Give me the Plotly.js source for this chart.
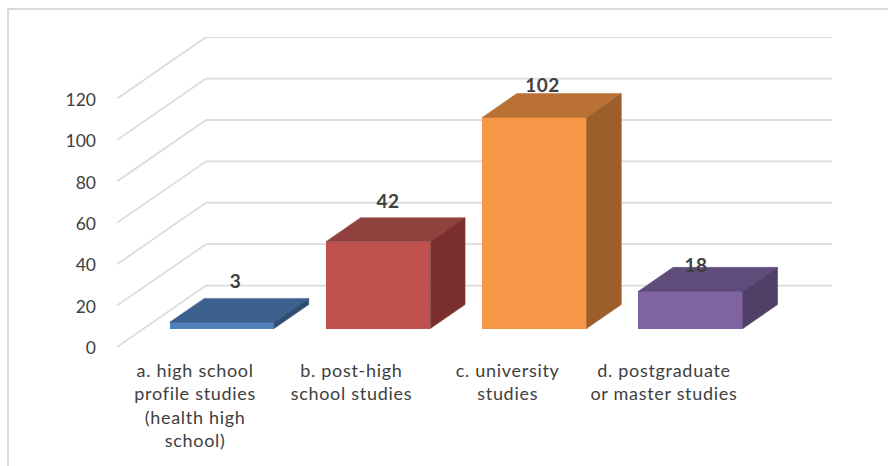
<!DOCTYPE html>
<html>
<head>
<meta charset="utf-8">
<script src="https://cdn.plot.ly/plotly-3.0.1.min.js"></script>
<style>
  html, body { margin: 0; padding: 0; background: #fff; overflow: hidden; }
  #frame { position: absolute; left: 7px; top: 8px; width: 881px; height: 458px;
           border-left: 2px solid #d9d9d9; border-top: 2px solid #d9d9d9; }
  #chart { position: absolute; left: 0; top: 0; width: 888px; height: 466px; }
  #chart .xtick text { letter-spacing: 0.7px; }
  #chart .annotation-text { letter-spacing: 0.5px; }
</style>
</head>
<body>
<div id="frame"></div>
<div id="chart"></div>
<script>
// Education level of respondents, drawn as an oblique 3D column chart.
const categories = [
  'a. high school<br>profile studies<br>(health high<br>school)',
  'b. post-high<br>school studies',
  'c. university<br>studies',
  'd. postgraduate<br>or master studies'
];
const counts = [3, 42, 102, 18];
const valueTicks = [0, 20, 40, 60, 80, 100, 120];

const frontColors = ['#4f81bd', '#c0504d', '#f79646', '#8064a2'];
const topColors   = ['#3c618e', '#90403d', '#b97135', '#604c7a'];
const sideColors  = ['#2f4d71', '#7a2f2e', '#9c5f2c', '#503f66'];

// Oblique projection, in axis units: one full floor depth moves a point
// right along the category axis and up along the value axis.
const depthX = 0.5694;
const depthY = 29.7;
const barWidth = 0.6686;
const barFront = 0.30;   // depth of each column's front face
const barBack  = 0.69;   // depth of each column's back face
const project = (x, v, d) => [x + d * depthX, v + d * depthY];

function polygon(points, color) {
  const closed = points.concat([points[0]]);
  return {
    type: 'scatter', mode: 'lines', fill: 'toself', fillcolor: color,
    x: closed.map(p => p[0]), y: closed.map(p => p[1]),
    line: { color: color, width: 0.5 }, hoverinfo: 'skip', showlegend: false
  };
}

const traces = [];
const baseY = project(0, 0, barFront)[1];

traces.push({
  type: 'bar',
  x: counts.map((_, i) => project(i, 0, barFront)[0]),
  y: counts,
  base: counts.map(() => baseY),
  width: barWidth,
  marker: { color: frontColors, line: { width: 0 } },
  hoverinfo: 'skip',
  showlegend: false
});

counts.forEach((v, i) => {
  const l = i - barWidth / 2, r = i + barWidth / 2;
  traces.push(polygon([
    project(l, v, barFront), project(r, v, barFront),
    project(r, v, barBack), project(l, v, barBack)
  ], topColors[i]));
  traces.push(polygon([
    project(r, 0, barFront), project(r, v, barFront),
    project(r, v, barBack), project(r, 0, barBack)
  ], sideColors[i]));
});

// Gridlines run across the side wall and then along the back wall.
const xMin = -0.5, xMax = 3.5 + depthX + 0.006;
const grid = { color: '#dcdcdc', width: 1.8 };
const shapes = [];
valueTicks.forEach(v => {
  const back = project(xMin, v, 1);
  shapes.push({ type: 'line', layer: 'below', xref: 'x', yref: 'y',
    x0: xMin, y0: v, x1: back[0], y1: back[1], line: grid });
  shapes.push({ type: 'line', layer: 'below', xref: 'x', yref: 'y',
    x0: back[0], y0: back[1], x1: xMax, y1: back[1], line: grid });
});

// Value labels sit above each column's top face, nudged in pixels.
const labelShiftX = [14, 10, 8, 5];
const labelShiftY = [42, 41, 33, 27];
const annotations = counts.map((v, i) => {
  const p = project(i, v, barFront);
  return {
    x: p[0], y: p[1], xref: 'x', yref: 'y', text: String(v),
    showarrow: false, xshift: labelShiftX[i], yshift: labelShiftY[i],
    xanchor: 'center', yanchor: 'middle',
    font: { family: 'Lato, sans-serif', size: 19, color: '#404040', weight: 700 }
  };
});

const layout = {
  width: 888, height: 466,
  margin: { l: 117, r: 56, t: 37, b: 119, pad: 0 },
  paper_bgcolor: 'rgba(0,0,0,0)', plot_bgcolor: 'rgba(0,0,0,0)',
  bargap: 0,
  showlegend: false,
  xaxis: {
    range: [xMin, xMax], tickmode: 'array',
    tickvals: categories.map((_, i) => i), ticktext: categories,
    showgrid: false, zeroline: false, showline: false, ticks: '',
    tickangle: 0, ticklabelstandoff: 11,
    tickfont: { family: 'Lato, sans-serif', size: 18, color: '#404040' }
  },
  yaxis: {
    range: [0, 149.8], tickmode: 'array', tickvals: valueTicks,
    showgrid: false, zeroline: false, showline: false, ticks: '',
    ticklabelstandoff: 20, ticklabelshift: 1,
    tickfont: { family: 'Lato, sans-serif', size: 17.5, color: '#404040' }
  },
  shapes: shapes,
  annotations: annotations
};

Plotly.newPlot('chart', traces, layout, { displayModeBar: false, staticPlot: true });
</script>
</body>
</html>
